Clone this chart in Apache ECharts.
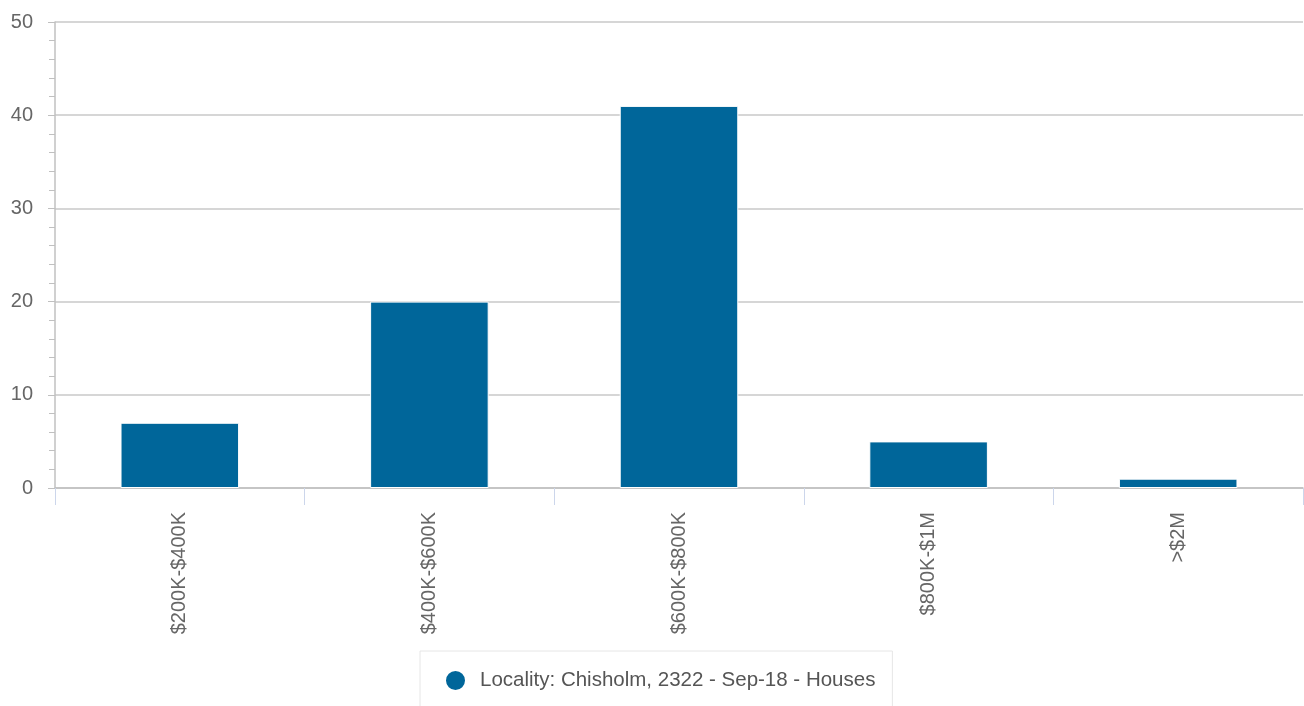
<!DOCTYPE html>
<html><head><meta charset="utf-8">
<script src="https://cdn.jsdelivr.net/npm/echarts@6/dist/echarts.min.js"></script>
<style>html,body{margin:0;padding:0;background:#fff}#c{width:1304px;height:706px}</style>
</head><body><div id="c"></div>
<script>
const categories = ["$200K-$400K", "$400K-$600K", "$600K-$800K", "$800K-$1M", ">$2M"];
const seriesName = "Locality: Chisholm, 2322 - Sep-18 - Houses";
const values = [7, 20, 41, 5, 1];
const yTicks = [0, 10, 20, 30, 40, 50];

const chart = echarts.init(document.getElementById('c'), null, {renderer: 'canvas'});
chart.setOption({
  animation: false,
  textStyle: {fontFamily: 'Liberation Sans, Arial, sans-serif'},
  grid: {left: 55, right: 1, top: 22, bottom: 218, containLabel: false},
  legend: {
    top: 651, left: 420,
    data: [{name: seriesName, icon: 'circle'}],
    itemWidth: 21, itemHeight: 21, itemGap: 10,
    padding: [18, 17, 18, 24],
    borderColor: '#e6e6e6', borderWidth: 1,
    textStyle: {fontSize: 20.5, color: '#555', padding: [0, 0, 0, 9], fontFamily: 'Liberation Sans, Arial, sans-serif'}
  },
  xAxis: {
    type: 'category', data: categories,
    axisLine: {lineStyle: {color: '#c0c0c0', width: 1.5}},
    axisTick: {show: true, length: 17, lineStyle: {color: '#ccd6eb'}},
    axisLabel: {rotate: 90, margin: 24, fontSize: 20, color: '#666'}
  },
  yAxis: {
    type: 'value', min: yTicks[0], max: yTicks[yTicks.length - 1], interval: 10,
    axisLine: {show: true, lineStyle: {color: '#c0c0c0', width: 1.5}},
    axisTick: {show: true, length: 7, lineStyle: {color: '#c0c0c0'}},
    minorTick: {show: true, splitNumber: 5, length: 6, lineStyle: {color: '#c0c0c0'}},
    splitLine: {lineStyle: {color: '#c8c8c8', width: 1.5}},
    axisLabel: {margin: 22, fontSize: 20, color: '#666'}
  },
  series: [{
    name: seriesName, type: 'bar', data: values,
    barWidth: '47.5%',
    itemStyle: {color: '#00669a', borderColor: '#ffffff', borderWidth: 1}
  }]
});
</script></body></html>
